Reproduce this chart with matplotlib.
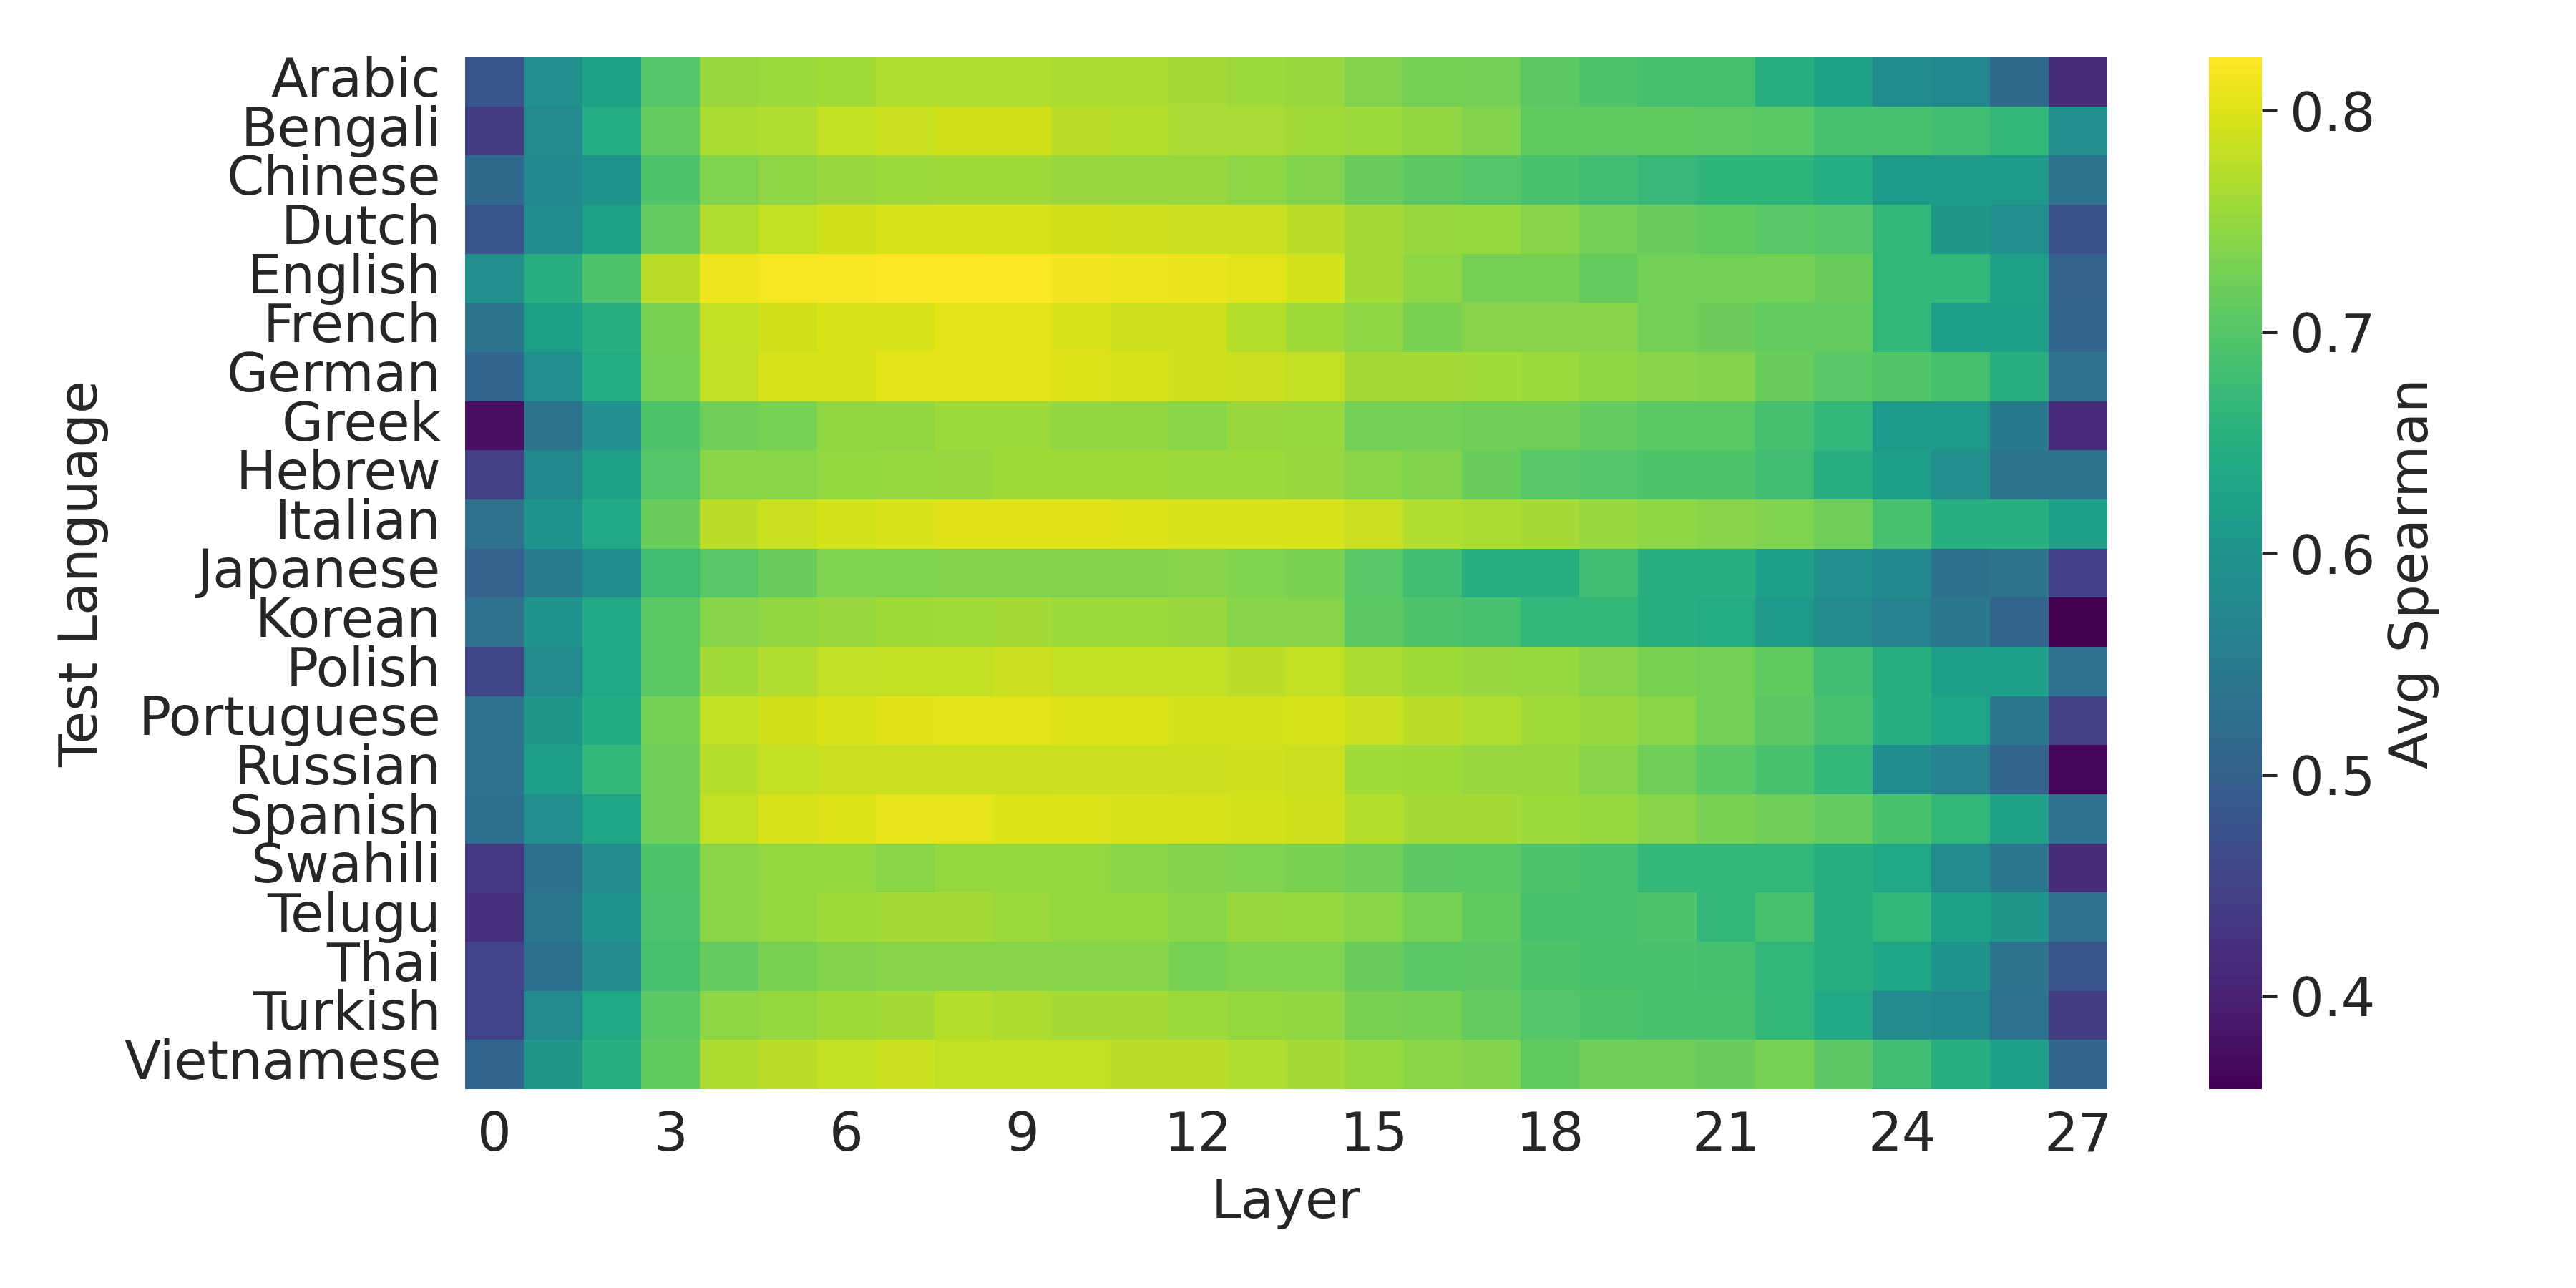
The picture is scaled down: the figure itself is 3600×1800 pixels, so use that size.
import numpy as np
import matplotlib
matplotlib.use("Agg")
import matplotlib.pyplot as plt
import seaborn as sns

languages = ["Arabic", "Bengali", "Chinese", "Dutch", "English", "French", "German",
             "Greek", "Hebrew", "Italian", "Japanese", "Korean", "Polish", "Portuguese",
             "Russian", "Spanish", "Swahili", "Telugu", "Thai", "Turkish", "Vietnamese"]
layers = list(range(28))

arabic = [0.48, 0.59, 0.625, 0.70, 0.752, 0.755, 0.759, 0.768, 0.768, 0.768, 0.765, 0.765, 0.762, 0.755,
          0.752, 0.735, 0.727, 0.725, 0.707, 0.693, 0.687, 0.686, 0.652, 0.625, 0.582, 0.575, 0.513, 0.415]
bengali = [0.44, 0.58, 0.645, 0.712, 0.764, 0.768, 0.782, 0.786, 0.791, 0.791, 0.776, 0.772, 0.763, 0.763,
           0.759, 0.756, 0.747, 0.735, 0.711, 0.711, 0.711, 0.709, 0.705, 0.689, 0.689, 0.681, 0.666, 0.59]
chinese = [0.515, 0.578, 0.60, 0.693, 0.733, 0.745, 0.753, 0.756, 0.757, 0.757, 0.753, 0.753, 0.753, 0.745,
           0.735, 0.718, 0.707, 0.70, 0.691, 0.681, 0.670, 0.661, 0.661, 0.645, 0.61, 0.61, 0.61, 0.535]
dutch = [0.48, 0.582, 0.625, 0.714, 0.768, 0.782, 0.791, 0.797, 0.797, 0.795, 0.791, 0.789, 0.786, 0.784,
         0.775, 0.762, 0.752, 0.750, 0.740, 0.725, 0.718, 0.711, 0.703, 0.700, 0.664, 0.605, 0.59, 0.475]
english = [0.59, 0.652, 0.693, 0.776, 0.812, 0.818, 0.819, 0.824, 0.824, 0.822, 0.815, 0.812, 0.808, 0.803,
           0.793, 0.762, 0.745, 0.727, 0.727, 0.714, 0.725, 0.725, 0.725, 0.718, 0.664, 0.664, 0.625, 0.50]
french = [0.535, 0.62, 0.652, 0.731, 0.782, 0.791, 0.795, 0.798, 0.803, 0.803, 0.797, 0.789, 0.789, 0.772,
          0.757, 0.745, 0.731, 0.740, 0.740, 0.740, 0.725, 0.72, 0.712, 0.712, 0.664, 0.617, 0.617, 0.508]
german = [0.508, 0.59, 0.645, 0.728, 0.78, 0.795, 0.798, 0.803, 0.803, 0.803, 0.80, 0.797, 0.789, 0.786,
          0.782, 0.762, 0.762, 0.759, 0.755, 0.745, 0.740, 0.735, 0.718, 0.703, 0.697, 0.687, 0.652, 0.533]
greek = [0.375, 0.537, 0.588, 0.693, 0.722, 0.728, 0.747, 0.747, 0.755, 0.755, 0.747, 0.747, 0.742, 0.752,
         0.75, 0.725, 0.725, 0.722, 0.722, 0.712, 0.705, 0.705, 0.687, 0.664, 0.608, 0.608, 0.547, 0.412]
hebrew = [0.448, 0.575, 0.625, 0.70, 0.741, 0.741, 0.749, 0.75, 0.752, 0.757, 0.757, 0.757, 0.756, 0.755,
          0.752, 0.742, 0.735, 0.718, 0.703, 0.70, 0.693, 0.693, 0.681, 0.652, 0.617, 0.59, 0.535, 0.538]
italian = [0.53, 0.60, 0.638, 0.718, 0.776, 0.786, 0.793, 0.797, 0.802, 0.802, 0.802, 0.80, 0.798, 0.798,
           0.795, 0.784, 0.768, 0.765, 0.762, 0.752, 0.745, 0.740, 0.733, 0.722, 0.689, 0.652, 0.652, 0.617]
japanese = [0.50, 0.55, 0.585, 0.681, 0.703, 0.718, 0.733, 0.733, 0.735, 0.735, 0.735, 0.735, 0.74, 0.733,
            0.731, 0.703, 0.681, 0.652, 0.652, 0.681, 0.652, 0.65, 0.617, 0.59, 0.578, 0.528, 0.535, 0.447]
korean = [0.53, 0.60, 0.638, 0.705, 0.740, 0.747, 0.753, 0.757, 0.759, 0.762, 0.756, 0.756, 0.753, 0.740,
          0.74, 0.707, 0.693, 0.689, 0.664, 0.668, 0.652, 0.645, 0.608, 0.58, 0.562, 0.542, 0.508, 0.358]
polish = [0.453, 0.58, 0.635, 0.705, 0.759, 0.768, 0.78, 0.782, 0.782, 0.786, 0.782, 0.782, 0.782, 0.776,
          0.782, 0.765, 0.757, 0.753, 0.75, 0.74, 0.731, 0.725, 0.711, 0.681, 0.652, 0.617, 0.617, 0.53]
portuguese = [0.53, 0.605, 0.642, 0.727, 0.782, 0.791, 0.797, 0.801, 0.803, 0.803, 0.80, 0.80, 0.793, 0.793,
              0.795, 0.786, 0.776, 0.768, 0.759, 0.752, 0.742, 0.725, 0.707, 0.689, 0.65, 0.63, 0.543, 0.445]
russian = [0.53, 0.617, 0.668, 0.722, 0.772, 0.782, 0.784, 0.784, 0.784, 0.784, 0.786, 0.786, 0.786, 0.789,
           0.784, 0.759, 0.757, 0.753, 0.752, 0.74, 0.722, 0.705, 0.691, 0.664, 0.585, 0.562, 0.508, 0.365]
spanish = [0.525, 0.59, 0.63, 0.722, 0.782, 0.795, 0.80, 0.806, 0.806, 0.80, 0.80, 0.798, 0.795, 0.793,
           0.789, 0.772, 0.762, 0.762, 0.755, 0.75, 0.74, 0.731, 0.722, 0.712, 0.691, 0.664, 0.625, 0.533]
swahili = [0.438, 0.528, 0.58, 0.693, 0.741, 0.749, 0.749, 0.741, 0.749, 0.749, 0.749, 0.742, 0.735, 0.733,
           0.731, 0.722, 0.707, 0.705, 0.693, 0.689, 0.668, 0.668, 0.664, 0.652, 0.635, 0.58, 0.542, 0.415]
telugu = [0.425, 0.545, 0.60, 0.692, 0.742, 0.749, 0.757, 0.762, 0.762, 0.756, 0.749, 0.749, 0.742, 0.752,
          0.75, 0.742, 0.728, 0.711, 0.691, 0.689, 0.693, 0.668, 0.689, 0.65, 0.664, 0.625, 0.605, 0.53]
thai = [0.45, 0.528, 0.58, 0.689, 0.714, 0.731, 0.735, 0.74, 0.74, 0.74, 0.74, 0.74, 0.728, 0.733,
        0.733, 0.718, 0.705, 0.707, 0.693, 0.691, 0.691, 0.687, 0.664, 0.65, 0.633, 0.60, 0.535, 0.48]
turkish = [0.45, 0.58, 0.635, 0.705, 0.745, 0.749, 0.757, 0.762, 0.772, 0.767, 0.762, 0.762, 0.756, 0.749,
           0.747, 0.731, 0.727, 0.714, 0.70, 0.693, 0.691, 0.691, 0.664, 0.638, 0.58, 0.575, 0.533, 0.44]
vietnamese = [0.508, 0.605, 0.652, 0.711, 0.767, 0.775, 0.782, 0.786, 0.782, 0.782, 0.782, 0.775, 0.775, 0.768,
              0.762, 0.75, 0.742, 0.735, 0.711, 0.722, 0.722, 0.718, 0.728, 0.707, 0.681, 0.65, 0.617, 0.508]

rows = [arabic, bengali, chinese, dutch, english, french, german, greek, hebrew, italian,
        japanese, korean, polish, portuguese, russian, spanish, swahili, telugu, thai,
        turkish, vietnamese]
data = np.array(rows)

sns.set_theme(style="white")
plt.rcParams['font.family'] = ['DejaVu Sans']
text_color = "#262626"
fs = 18

fig = plt.figure(figsize=(12, 6), dpi=300)
ax = fig.add_axes([0.1805, 0.1545, 0.6375, 0.801])
cax = fig.add_axes([0.8575, 0.1545, 0.0205, 0.801])

sns.heatmap(data, ax=ax, cbar_ax=cax, cmap="viridis",
            xticklabels=False, yticklabels=languages,
            cbar_kws={"label": "Avg Spearman"})

xt = layers[::3]
ax.set_xticks([x + 0.5 for x in xt])
ax.set_xticklabels([str(x) for x in xt], rotation=0, fontsize=fs, color=text_color)
ax.set_yticklabels(languages, rotation=0, fontsize=fs, color=text_color)
ax.tick_params(axis='x', length=0, pad=7)
ax.tick_params(axis='y', length=0, pad=8)
ax.set_xlabel("Layer", fontsize=fs, color=text_color, labelpad=5)
ax.set_ylabel("Test Language", fontsize=fs, color=text_color, labelpad=5)

cax.tick_params(labelsize=fs, colors=text_color, length=5, width=1.2, pad=4.5)
cax.set_yticks([0.4, 0.5, 0.6, 0.7, 0.8])
cax.set_ylabel("Avg Spearman", fontsize=fs, color=text_color, labelpad=4)

fig.savefig("out.png", dpi=300)
